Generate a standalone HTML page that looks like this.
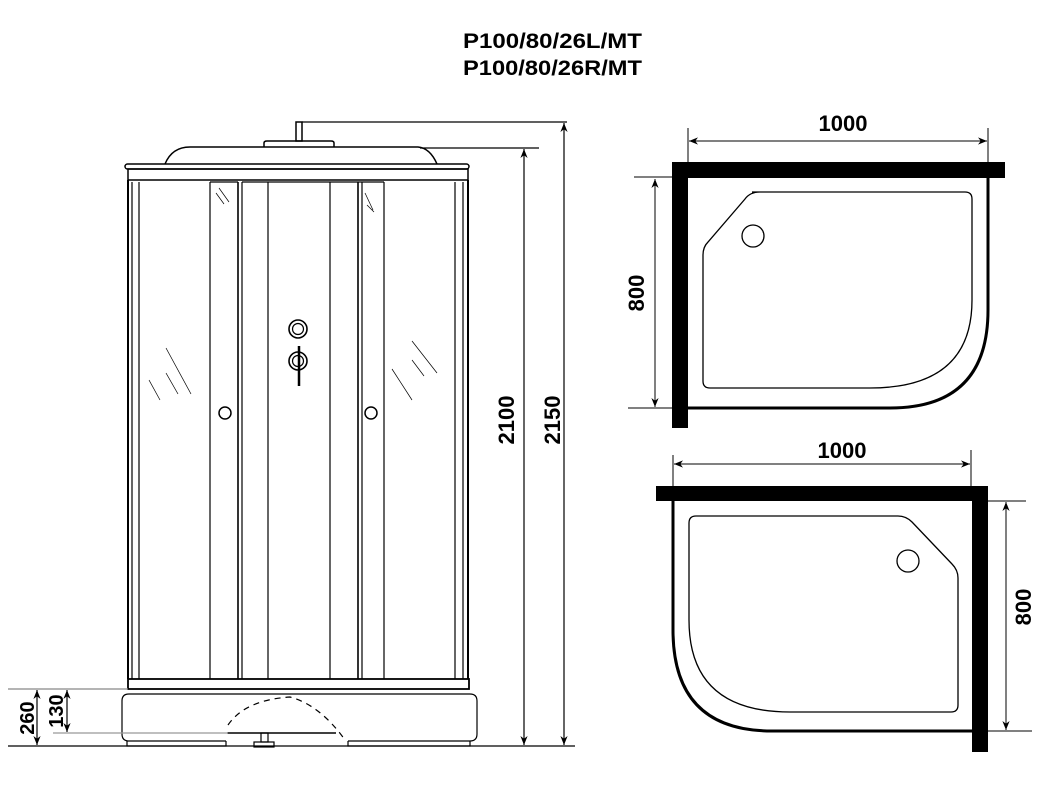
<!DOCTYPE html>
<html><head><meta charset="utf-8"><style>
html,body{margin:0;padding:0;background:#fff;}
svg{display:block;}
text{font-family:"Liberation Sans",Arial,sans-serif;font-weight:bold;fill:#000;}
</style></head><body>
<svg width="1060" height="792" viewBox="0 0 1060 792" xmlns="http://www.w3.org/2000/svg">
<defs>
<marker id="ar" viewBox="0 0 10 10" refX="10" refY="5" markerWidth="9" markerHeight="9" orient="auto-start-reverse" markerUnits="userSpaceOnUse"><path d="M0,1 L10,5 L0,9 L3,5 Z" fill="#000"/></marker>
</defs>
<text x="463" y="48" font-size="21" textLength="179" lengthAdjust="spacingAndGlyphs">P100/80/26L/MT</text>
<text x="463" y="75" font-size="21" textLength="179" lengthAdjust="spacingAndGlyphs">P100/80/26R/MT</text>

<g fill="none" stroke="#000" stroke-width="1.2">
<rect x="296" y="122" width="6" height="19" stroke-width="1.5"/>
<path d="M264,147 L264,143 Q264,141 267,141 L331,141 Q334,141 334,143 L334,147" stroke-width="1.5"/>
<path d="M165,164 Q172,147 190,147 L418,147 Q430,148 437,164" stroke-width="1.5"/>
<rect x="125" y="164" width="344" height="5" rx="2.5" stroke-width="1.5"/>
<rect x="128" y="169" width="340" height="11" stroke-width="1.5"/>
<line x1="128" y1="180" x2="128" y2="679" stroke-width="2"/>
<line x1="132" y1="182" x2="132" y2="679"/>
<line x1="139" y1="182" x2="139" y2="679"/>
<line x1="210" y1="182" x2="210" y2="679"/>
<line x1="238" y1="182" x2="238" y2="679" stroke-width="1.6"/>
<line x1="242" y1="182" x2="242" y2="679"/>
<line x1="268" y1="182" x2="268" y2="679"/>
<line x1="330" y1="182" x2="330" y2="679"/>
<line x1="358" y1="182" x2="358" y2="679" stroke-width="1.6"/>
<line x1="362" y1="182" x2="362" y2="679"/>
<line x1="384" y1="182" x2="384" y2="679"/>
<line x1="455" y1="182" x2="455" y2="679"/>
<line x1="463" y1="182" x2="463" y2="679"/>
<line x1="468" y1="180" x2="468" y2="679" stroke-width="2"/>
<line x1="210" y1="182" x2="238" y2="182"/><line x1="358" y1="182" x2="384" y2="182"/>
<line x1="242" y1="182" x2="358" y2="182"/>
<g stroke-width="0.7">
<line x1="219" y1="188" x2="229" y2="202"/><line x1="216" y1="193" x2="224" y2="204"/>
<line x1="365" y1="193" x2="373" y2="210"/><line x1="367" y1="205" x2="374" y2="212"/>
<line x1="166" y1="348" x2="191" y2="394"/><line x1="166" y1="373" x2="178" y2="394"/><line x1="149" y1="380" x2="160" y2="400"/>
<line x1="412" y1="341" x2="437" y2="373"/><line x1="412" y1="360" x2="424" y2="376"/><line x1="392" y1="369" x2="412" y2="400"/>
</g>
<ellipse cx="298" cy="329" rx="9" ry="9" stroke-width="1.6"/><ellipse cx="298" cy="329" rx="5.5" ry="5.5"/>
<ellipse cx="298" cy="361" rx="9" ry="9" stroke-width="1.6"/><ellipse cx="298" cy="361" rx="5.5" ry="5.5"/>
<line x1="299" y1="346" x2="299" y2="386" stroke-width="2.5"/>
<circle cx="225" cy="413" r="6" stroke-width="1.5"/>
<circle cx="371" cy="413" r="6" stroke-width="1.5"/>
<rect x="128" y="679" width="341" height="10" stroke-width="1.8"/>
<path d="M226,741 L129,741 Q122,741 122,734 L122,701 Q122,694 129,694 L470,694 Q477,694 477,701 L477,734 Q477,741 470,741 L348,741" stroke-width="1.2"/>
<path d="M127,741 L127,746 L226,746 L226,741 M348,741 L348,746 L470,746 L470,741" stroke-width="1.2"/>
<path d="M228,725 Q245,700 290,697 Q320,705 345,740" stroke-dasharray="6,5"/>
<line x1="227" y1="733" x2="336" y2="733" stroke-width="1.6"/>
<rect x="261" y="733" width="7" height="9"/><rect x="254" y="742" width="20" height="5"/>
<line x1="8" y1="746" x2="575" y2="746" stroke-width="1.2"/>
<line x1="8" y1="689" x2="128" y2="689" stroke="#888"/>
<line x1="53" y1="733" x2="228" y2="733" stroke="#999"/>
<line x1="37" y1="690" x2="37" y2="745" marker-start="url(#ar)" marker-end="url(#ar)"/>
<line x1="67" y1="690" x2="67" y2="732" marker-start="url(#ar)" marker-end="url(#ar)"/>
<line x1="302" y1="122" x2="567" y2="122"/>
<line x1="420" y1="148" x2="539" y2="148"/>
<line x1="524" y1="149" x2="524" y2="745" marker-start="url(#ar)" marker-end="url(#ar)"/>
<line x1="564" y1="123" x2="564" y2="745" marker-start="url(#ar)" marker-end="url(#ar)"/>
</g>
<text font-size="20" transform="translate(34,718) rotate(-90)" text-anchor="middle">260</text>
<text font-size="20" transform="translate(63,711) rotate(-90)" text-anchor="middle">130</text>
<text font-size="22" transform="translate(514,420) rotate(-90)" text-anchor="middle">2100</text>
<text font-size="22" transform="translate(560,420) rotate(-90)" text-anchor="middle">2150</text>

<rect x="672" y="162" width="333" height="16" fill="#000"/>
<rect x="672" y="162" width="16" height="266" fill="#000"/>
<g fill="none" stroke="#000">
<path d="M688,408 L890,408 Q988,408 988,310 L988,178" stroke-width="3"/>
<path d="M752,192 L965,192 Q972,192 972,199 L972,300 Q972,388 870,388 L710,388 Q703,388 703,381 L703,255 Q703,247 708,242 L745,199 Q750,192 760,192" stroke-width="1.3"/>
<circle cx="753" cy="236" r="11" stroke-width="1.3"/>
<line x1="688" y1="128" x2="688" y2="178"/><line x1="988" y1="128" x2="988" y2="178"/>
<line x1="689" y1="141" x2="987" y2="141" marker-start="url(#ar)" marker-end="url(#ar)"/>
<line x1="634" y1="177" x2="672" y2="177"/><line x1="628" y1="408" x2="672" y2="408"/>
<line x1="655" y1="179" x2="655" y2="407" marker-start="url(#ar)" marker-end="url(#ar)"/>
</g>
<text x="843" y="131" font-size="22" text-anchor="middle">1000</text>
<text font-size="22" transform="translate(644,293) rotate(-90)" text-anchor="middle">800</text>

<rect x="656" y="486" width="332" height="15" fill="#000"/>
<rect x="972" y="486" width="16" height="266" fill="#000"/>
<g fill="none" stroke="#000">
<path d="M673,501 L673,630 Q673,731 772,731 L972,731" stroke-width="3"/>
<path d="M696,516 L898,516 Q906,516 912,522 L952,564 Q958,570 958,578 L958,705 Q958,712 951,712 L790,712 Q689,712 689,620 L689,523 Q689,516 696,516 Z" stroke-width="1.3"/>
<circle cx="908" cy="561" r="11" stroke-width="1.3"/>
<line x1="673" y1="455" x2="673" y2="488"/><line x1="971" y1="450" x2="971" y2="488"/>
<line x1="674" y1="464" x2="970" y2="464" marker-start="url(#ar)" marker-end="url(#ar)"/>
<line x1="988" y1="501" x2="1026" y2="501"/><line x1="988" y1="731" x2="1032" y2="731"/>
<line x1="1006" y1="502" x2="1006" y2="730" marker-start="url(#ar)" marker-end="url(#ar)"/>
</g>
<text x="842" y="458" font-size="22" text-anchor="middle">1000</text>
<text font-size="22" transform="translate(1031,607) rotate(-90)" text-anchor="middle">800</text>
</svg>
</body></html>
